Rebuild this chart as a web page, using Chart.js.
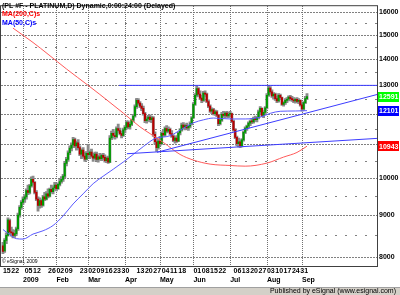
<!DOCTYPE html>
<html><head><meta charset="utf-8">
<script src="https://cdn.jsdelivr.net/npm/chart.js@4.4.0/dist/chart.umd.min.js"></script>
<style>html,body{margin:0;padding:0;background:#fff;}</style>
</head><body>
<canvas id="c" width="400" height="295" style="display:block;width:400px;height:295px"></canvas>
<script>
// ---- Data (PL #F daily, Dec 15 2008 .. Sep 4 2009), one entry per trading day ----
const opens = [8250,8130,8380,8500,8860,8580,8560,8500,8540,8660,9000,9200,
9330,9420,9480,9650,9600,9780,9960,9880,9600,9420,9250,9380,9260,9480,9420,9560,9500,9680,9620,9720,
9800,9700,9820,9900,9960,10050,10420,10540,10740,10880,10980,11150,10950,11050,10900,10700,10820,10640,10550,
10720,10680,10760,10640,10580,10700,10540,10620,10560,10660,10600,10500,10580,10460,11200,11350,11280,11240,11500,11440,11340,11280,
11460,11540,11700,11560,11640,11780,11920,12240,12460,12360,12260,12180,12000,11760,11820,11880,11800,11860,11320,11080,10900,
11100,11020,11350,11300,11500,11420,11480,11340,11260,11120,11200,11100,11360,11460,11620,11540,11600,11520,11580,11660,
11860,12320,12640,12880,12680,12540,12460,12720,12680,12420,12260,12080,12140,12000,12060,11950,11660,11780,11980,11940,12020,11920,
11980,12000,11740,11460,11220,11020,11080,10960,11140,11380,11520,11580,11680,11740,11720,11840,11800,11860,12060,12180,11940,12040,
12200,12640,12900,12760,12620,12680,12520,12440,12640,12560,12320,12380,12460,12500,12580,12520,12480,12440,12500,12420,12460,
12300,12160,12380,12520];
const highs = [8330,8420,8560,8930,8900,8700,8640,8620,8700,9050,9250,9380,
9480,9540,9700,9800,9820,10030,10050,9900,9650,9480,9450,9420,9520,9600,9620,9700,9720,9800,9760,9880,
9850,9860,9960,10040,10100,10480,10600,10800,10950,11050,11220,11200,11100,11150,10950,10860,10900,10760,10780,
11000,10800,10850,10720,10760,10760,10660,10720,10700,10720,10680,10620,10640,11280,11420,11480,11400,11560,11650,11520,11420,11520,
11600,11760,11760,11700,11820,11980,12300,12530,12520,12420,12350,12260,12040,11900,11940,11960,11920,11900,11400,11200,11150,
11250,11400,11480,11560,11600,11560,11520,11440,11300,11240,11280,11400,11500,11680,11700,11640,11680,11620,11720,11900,
12380,12700,12990,12920,12800,12640,12780,12800,12720,12480,12300,12200,12180,12120,12100,11980,11820,12040,12080,12060,12080,12040,
12080,12020,11780,11500,11260,11200,11140,11180,11420,11560,11620,11720,11780,11840,11880,11920,11900,12120,12240,12200,12100,12240,
12700,12990,12960,12840,12740,12720,12600,12700,12680,12580,12420,12520,12560,12620,12640,12600,12560,12540,12560,12520,12480,
12360,12420,12600,12700];
const lows = [8070,8100,8300,8480,8520,8480,8440,8450,8500,8620,8950,9150,
9280,9330,9420,9540,9560,9740,9820,9560,9380,9100,9180,9200,9230,9380,9400,9450,9480,9580,9560,9660,
9640,9680,9780,9850,9900,10000,10350,10480,10680,10800,10900,10900,10820,10850,10650,10560,10600,10480,10520,
10600,10560,10600,10480,10540,10500,10460,10520,10500,10540,10460,10440,10420,10440,11150,11200,11160,11200,11380,11300,11200,11250,
11360,11480,11500,11480,11600,11720,11880,12180,12300,12200,12100,11950,11700,11680,11740,11720,11700,11250,11000,10780,10850,
10950,11000,11250,11260,11360,11380,11300,11220,11080,11040,11060,11080,11300,11420,11480,11460,11480,11440,11520,11620,
11840,12280,12580,12600,12480,12380,12420,12600,12380,12200,12040,12000,11960,11940,11900,11600,11620,11740,11880,11860,11880,11860,
11900,11700,11420,11180,10950,10920,10900,10920,11100,11340,11440,11520,11600,11660,11680,11740,11720,11820,11980,11900,11860,11980,
12160,12600,12680,12560,12500,12460,12380,12400,12480,12280,12260,12320,12380,12440,12460,12420,12380,12360,12380,12340,12260,
12080,12120,12340,12480];
const closes = [8120,8380,8500,8880,8580,8560,8500,8540,8660,9000,9200,9330,
9420,9480,9650,9600,9780,9960,9880,9600,9420,9250,9380,9260,9480,9420,9560,9500,9680,9620,9720,9800,
9700,9820,9900,9960,10050,10420,10540,10740,10880,10980,11150,10950,11050,10900,10700,10820,10640,10550,10720,
10680,10760,10640,10580,10700,10540,10620,10560,10660,10600,10500,10580,10460,11200,11350,11280,11240,11500,11440,11340,11280,11460,
11540,11700,11560,11640,11780,11920,12240,12460,12360,12260,12180,12000,11760,11820,11880,11800,11860,11320,11080,10900,11100,
11020,11350,11300,11500,11420,11480,11340,11260,11120,11200,11100,11360,11460,11620,11540,11600,11520,11580,11660,11860,
12320,12640,12880,12680,12540,12460,12720,12680,12420,12260,12080,12140,12000,12060,11950,11660,11780,11980,11940,12020,11920,11980,
12000,11740,11460,11220,11020,11080,10960,11140,11380,11520,11580,11680,11740,11720,11840,11800,11860,12060,12180,11940,12040,12200,
12640,12900,12760,12620,12680,12520,12440,12640,12560,12320,12380,12460,12500,12580,12520,12480,12440,12500,12420,12460,12300,
12160,12380,12520,12591];

// Moving averages (bar index -> value)
const ma50Idx = [0,4,8,12,18,24,30,36,42,48,54,60,66,72,78,84,91,100,106,114,120,126,136,145,154,160,166,175,182];
const ma50 = [8640,8520,8420,8410,8530,8610,8740,8980,9290,9560,9840,10050,10250,10460,10690,10930,11180,11270,11450,11690,11790,11850,11820,11820,11880,12010,12080,12090,12101];
const ma200Idx = [6,18,27,38,51,58,72,82,88,96,106,114,124,136,145,158,168,176,182];
const ma200 = [15290,14680,14200,13620,13000,12670,12020,11560,11340,11060,10690,10520,10400,10360,10340,10430,10610,10750,10943];

// Drawn trend lines (bar index, price)
const resistIdx = [69.5, 224]; const resistVal = [13000, 13000];
const upperSupIdx = [92.2, 224]; const upperSupVal = [10754, 12669];
const lowerSupIdx = [74.2, 224]; const lowerSupVal = [10710, 11187];

// Axis labels
const weekTickIdx = [0,5,13,18,27,32,37,46,51,56,61,66,71,80,85,90,95,100,105,114,119,124,129,138,143,148,153,158,163,168,173,178];
const weekTickLabels = ["15","22","05","12","26","02","09","23","02","09","16","23","30","13","20","27","04","11","18","01","08","15","22","06","13","20","27","03","10","17","24","31"];
const monthTickIdx = [12,32,51,73,94,114,136,158,179];
const monthTickLabels = ["2009","Feb","Mar","Apr","May","Jun","Jul","Aug","Sep"];
const priceTicks = [8000,9000,10000,11000,12000,13000,14000,15000,16000];
const minorPriceTicks = [8500,9500,10500,11500,12500,13500,14500,15500];

const titleText = "(PL #F - PLATINUM,D) Dynamic,0:00:24:00 (Delayed)";
const legendTexts = ["MA(200,C)s","MA(50,C)s"];

// ---- build datasets ----
const wickData = highs.map((h,i)=>({x:i, y:[lows[i], h]}));
const bodyData = opens.map((o,i)=>({x:i, y:[Math.min(o,closes[i]), Math.max(o,closes[i])]}));
const bodyColors = opens.map((o,i)=> closes[i] >= o ? '#009a00' : '#b80000');
const toPts = (xs, ys) => xs.map((x,i)=>({x, y: ys[i]}));

const FONT = '"Liberation Sans", Arial, sans-serif';
const XMIN = -1.17, XMAX = 223.9, YMIN = 7792, YMAX = 16270;

const gridPlugin = {
  id: 'gridPlugin',
  beforeDatasetsDraw(chart) {
    const ctx = chart.ctx, a = chart.chartArea, x = chart.scales.x, y = chart.scales.y;
    ctx.save();
    const L = Math.round(a.left), R = Math.round(a.right), T = Math.round(a.top), B = Math.round(a.bottom);
    // dashed horizontal majors: 2px on, 1px off
    ctx.fillStyle = '#808080';
    priceTicks.forEach(v => {
      const py = Math.round(y.getPixelForValue(v));
      for (let px = L; px < R; px += 3) ctx.fillRect(px, py, 2, 1);
    });
    // sparse minors
    ctx.fillStyle = '#808080';
    minorPriceTicks.forEach(v => {
      const py = Math.round(y.getPixelForValue(v));
      for (let px = L + 4; px < R; px += 10) ctx.fillRect(px, py, 2, 1);
    });
    // dotted verticals at month starts
    ctx.fillStyle = '#707070';
    monthTickIdx.forEach(v => {
      const px = Math.round(x.getPixelForValue(v));
      for (let py = T; py < B; py += 2) ctx.fillRect(px, py, 1, 1);
    });
    ctx.restore();
  }
};

const overlay = {
  id: 'overlay',
  beforeDraw(chart) {
    const ctx = chart.ctx;
    ctx.save(); ctx.fillStyle = '#fff'; ctx.fillRect(0,0,chart.width,chart.height); ctx.restore();
  },
  afterDraw(chart) {
    const ctx = chart.ctx, a = chart.chartArea, y = chart.scales.y;
    ctx.save();
    ctx.strokeStyle = '#404040'; ctx.lineWidth = 1; ctx.setLineDash([]);
    ctx.strokeRect(a.left - 0.5, a.top - 0.5, a.right - a.left + 1, a.bottom - a.top + 1);
    ctx.textBaseline = 'middle'; ctx.textAlign = 'left';
    ctx.font = 'bold 7px ' + FONT;
    ctx.fillStyle = '#000'; ctx.fillText(titleText, 2, 6);
    ctx.fillStyle = '#ff0000'; ctx.fillText(legendTexts[0], 2, 14.5);
    ctx.fillStyle = '#0000ff'; ctx.fillText(legendTexts[1], 2, 23.3);
    ctx.font = '5px ' + FONT; ctx.fillStyle = '#000';
    ctx.fillText('\u00a9 eSignal, 2009', 2, 262);
    const boxes = [[closes[closes.length-1], '#00ff00'], [ma50[ma50.length-1], '#0000ff'], [ma200[ma200.length-1], '#ff0000']];
    ctx.font = 'bold 7px ' + FONT;
    boxes.forEach(([v,c]) => {
      const py = y.getPixelForValue(v);
      ctx.fillStyle = c; ctx.fillRect(a.right + 1, Math.round(py) - 5, 21, 10);
      ctx.fillStyle = '#fff'; ctx.fillText(String(v), a.right + 2, py + 0.5);
    });
    ctx.fillStyle = '#d4d0c8'; ctx.fillRect(0, 287, chart.width, 8);
    ctx.fillStyle = '#a0a0a0'; ctx.fillRect(0, 287, chart.width, 1);
    ctx.fillStyle = '#000'; ctx.font = '7px ' + FONT; ctx.textAlign = 'right';
    ctx.fillText('Published by eSignal (www.esignal.com)', 396, 291.5);
    ctx.restore();
  }
};

const lineDs = (data, color, w, extra) => Object.assign({type:'line', data, borderColor: color, borderWidth: w, pointRadius: 0, fill: false, xAxisID:'x', yAxisID:'y', order: 1}, extra||{});

new Chart(document.getElementById('c'), {
  type: 'line',
  data: { datasets: [
    lineDs(toPts(resistIdx, resistVal), '#3c3cff', 1),
    lineDs(toPts(upperSupIdx, upperSupVal), '#3c3cff', 1),
    lineDs(toPts(lowerSupIdx, lowerSupVal), '#3c3cff', 1),
    lineDs(toPts(ma200Idx, ma200), '#ff5a5a', 1, {cubicInterpolationMode:'monotone'}),
    lineDs(toPts(ma50Idx, ma50), '#5a5aff', 1, {cubicInterpolationMode:'monotone'}),
    {type:'bar', data: bodyData, backgroundColor: bodyColors, barThickness: 1.4, grouped: false, minBarLength: 1, borderWidth: 0, xAxisID:'x', yAxisID:'y', order: 2},
    {type:'bar', data: wickData, backgroundColor: '#8a8a8a', barThickness: 2.2, grouped: false, borderWidth: 0, xAxisID:'x', yAxisID:'y', order: 3}
  ]},
  options: {
    responsive: false, animation: false, devicePixelRatio: 1,
    layout: { padding: { left: 1, top: 1, right: 0, bottom: 7 } },
    plugins: { legend: { display: false }, tooltip: { enabled: false } },
    scales: {
      x: {
        type: 'linear', position: 'bottom', min: XMIN, max: XMAX, offset: false, weight: 0,
        grid: { display: false, offset: false, drawTicks: false }, border: { display: false },
        afterBuildTicks: s => { s.ticks = weekTickIdx.map(v => ({value: v})); },
        afterFit: s => { s.height = 11; },
        ticks: { autoSkip: false, maxRotation: 0, minRotation: 0, align: 'start', padding: 2, color: '#000',
          font: { family: FONT, size: 7, weight: 'bold', lineHeight: 1 },
          callback: (v) => { const k = weekTickIdx.indexOf(v); return k >= 0 ? weekTickLabels[k] : ''; } }
      },
      xm: {
        type: 'linear', position: 'bottom', min: XMIN, max: XMAX, offset: false, weight: 1,
        grid: { display: false, drawTicks: false, offset: false }, border: { display: false },
        afterBuildTicks: s => { s.ticks = monthTickIdx.map(v => ({value: v})); },
        afterFit: s => { s.height = 11; },
        ticks: { autoSkip: false, maxRotation: 0, minRotation: 0, align: 'start', padding: 0, color: '#000',
          font: { family: FONT, size: 7, weight: 'bold', lineHeight: 1 },
          callback: (v) => { const k = monthTickIdx.indexOf(v); return k >= 0 ? monthTickLabels[k] : ''; } }
      },
      y: {
        type: 'logarithmic', position: 'right', min: YMIN, max: YMAX,
        grid: { display: false, drawTicks: false }, border: { display: false },
        afterBuildTicks: s => { s.ticks = priceTicks.map(v => ({value: v})); },
        afterFit: s => { s.width = 23; },
        ticks: { padding: 2, color: '#000', font: { family: FONT, size: 7, weight: 'bold' },
          callback: (v) => String(v) }
      }
    }
  },
  plugins: [gridPlugin, overlay]
});
</script>
</body></html>
